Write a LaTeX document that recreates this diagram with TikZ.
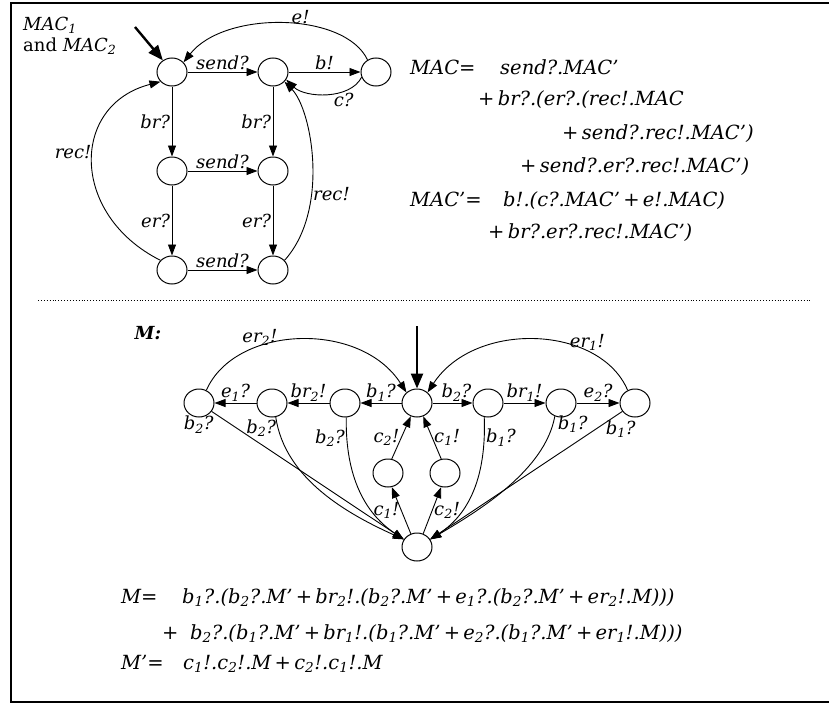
\documentclass[tikz,border=0pt]{standalone}
\usepackage{fontspec}
\setmainfont{DejaVu Serif}
\usetikzlibrary{arrows.meta,shapes.geometric}
\newcommand\sbs[1]{\textsubscript{#1}}
\begin{document}
\begin{tikzpicture}[x=1pt,y=-1pt,
 st/.style={ellipse,draw,line width=1pt,minimum width=30pt,minimum height=28pt,inner sep=0pt},
 arr/.style={line width=0.9pt,-{Triangle[length=11pt,width=8pt]}},
 initarr/.style={line width=2.4pt,-{Triangle[length=15pt,width=12pt]}},
 lbl/.style={font=\fontsize{18}{20}\selectfont\itshape, inner sep=1.5pt},
 eq/.style={font=\fontsize{19.5}{22}\selectfont\itshape, anchor=base west, inner sep=0pt}]
\useasboundingbox (0,0) rectangle (829,704);
\fill[white] (0,0) rectangle (829,704);
\draw[line width=1.5pt] (829,3) -- (11,3) -- (11,702) -- (829,702);
\draw[dotted, line width=0.9pt] (38,300) -- (812,300);
% top diagram
\node[st] (a1) at (172,72) {};
\node[st] (a2) at (273,72) {};
\node[st] (a3) at (376,72) {};
\node[st] (a4) at (172,171) {};
\node[st] (a5) at (273,171) {};
\node[st] (a6) at (172,270) {};
\node[st] (a7) at (273,270) {};
\node[lbl, anchor=base west, inner sep=0pt] (t1) at (23,30) {MAC\sbs{1}};
\node[lbl, anchor=base west, inner sep=0pt] (t2) at (23,51) {{\upshape and} MAC\sbs{2}};
\coordinate (i1) at (135,27);
\draw[initarr] (i1) -- (a1.128);
\draw[arr] (a1) -- node[lbl,above]{send?} (a2);
\draw[arr] (a2) -- node[lbl,above]{b!} (a3);
\draw[arr] (a3.200) .. controls (350,100) and (305,98) .. node[lbl,below,pos=0.3]{c?} (a2.-30);
\draw[arr] (a3.125) .. controls (345,12) and (225,10) .. node[lbl,above,pos=0.42,inner sep=0pt]{e!} (a1.40);
\draw[arr] (a1) -- node[lbl,left]{br?} (a4);
\draw[arr] (a2) -- node[lbl,left]{br?} (a5);
\draw[arr] (a4) -- node[lbl,above]{send?} (a5);
\draw[arr] (a4) -- node[lbl,left]{er?} (a6);
\draw[arr] (a5) -- node[lbl,left]{er?} (a7);
\draw[arr] (a6) -- node[lbl,above]{send?} (a7);
\draw[arr] (a6.140) .. controls (70,215) and (70,105) .. node[lbl,left,pos=0.55]{rec!} (a1.220);
\draw[arr] (a7.40) .. controls (330,210) and (312,110) .. node[lbl,right,pos=0.35]{rec!} (a2.-40);
% top equations
\node[eq] (q1) at (410,74) {MAC=};
\node[eq] (q2) at (500,74) {send?.MAC'};
\node[eq] (q3) at (478,105) {+\,br?.(er?.(rec!.MAC};
\node[eq] (q4) at (562,139) {+\,send?.rec!.MAC')};
\node[eq] (q5) at (520,172) {+\,send?.er?.rec!.MAC')};
\node[eq] (q6) at (410,206) {MAC'=};
\node[eq] (q7) at (503,206) {b!.(c?.MAC'\,+\,e!.MAC)};
\node[eq] (q8) at (488,238) {+\,br?.er?.rec!.MAC')};
% bottom diagram
\node[lbl, font=\fontsize{18}{20}\selectfont\bfseries\itshape] (Ml) at (148,333) {M:};
\node[st] (A) at (199,403) {};
\node[st] (B) at (272,403) {};
\node[st] (C) at (345,403) {};
\node[st] (D) at (417,403) {};
\node[st] (E) at (488,403) {};
\node[st] (F) at (561,403) {};
\node[st] (G) at (635,403) {};
\node[st] (P) at (388,473) {};
\node[st] (Q) at (445,473) {};
\node[st] (Z) at (417,547) {};
\coordinate (i2) at (417,326);
\draw[initarr] (i2) -- (D);
\draw[arr] (D) -- node[lbl,above]{b\sbs{1}?} (C);
\draw[arr] (C) -- node[lbl,above]{br\sbs{2}!} (B);
\draw[arr] (B) -- node[lbl,above]{e\sbs{1}?} (A);
\draw[arr] (D) -- node[lbl,above,pos=0.6]{b\sbs{2}?} (E);
\draw[arr] (E) -- node[lbl,above]{br\sbs{1}!} (F);
\draw[arr] (F) -- node[lbl,above]{e\sbs{2}?} (G);
\draw[arr] (A.60) .. controls (235,325) and (360,320) .. node[lbl,above,pos=0.33,inner sep=0pt]{er\sbs{2}!} (D.135);
\draw[arr] (G.120) .. controls (600,325) and (475,320) .. node[lbl,above,pos=0.27,inner sep=0pt]{er\sbs{1}!} (D.45);
\draw[arr] (A) -- node[lbl,below left,pos=0.02]{b\sbs{2}?} (Z.150);
\draw[arr] (B.-75) .. controls (285,480) and (350,515) .. node[lbl,left,pos=0.06]{b\sbs{2}?} (Z.150);
\draw[arr] (C.-85) .. controls (345,490) and (375,520) .. node[lbl,left,pos=0.1]{b\sbs{2}?} (Z.150);
\draw[arr] (E.-105) .. controls (487,490) and (460,520) .. node[lbl,right,pos=0.1]{b\sbs{1}?} (Z.30);
\draw[arr] (F.-115) .. controls (545,470) and (480,510) .. node[lbl,right,pos=0.05,xshift=3pt]{b\sbs{1}?} (Z.30);
\draw[arr] (G) -- node[lbl,below,pos=0.04,xshift=6pt,yshift=-2pt]{b\sbs{1}?} (Z.30);
\draw[arr] (Z.115) -- node[lbl,left]{c\sbs{1}!} (P.-75);
\draw[arr] (Z.65) -- node[lbl,right]{c\sbs{2}!} (Q.-105);
\draw[arr] (P.75) -- node[lbl,left]{c\sbs{2}!} (D.-115);
\draw[arr] (Q.105) -- node[lbl,right]{c\sbs{1}!} (D.-65);
% bottom equations
\node[eq] (m1) at (121,603) {M=};
\node[eq] (m2) at (182,603) {b\sbs{1}?.(b\sbs{2}?.M'\,+\,br\sbs{2}!.(b\sbs{2}?.M'\,+\,e\sbs{1}?.(b\sbs{2}?.M'\,+\,er\sbs{2}!.M)))};
\node[eq] (m3) at (162,639) {+\; b\sbs{2}?.(b\sbs{1}?.M'\,+\,br\sbs{1}!.(b\sbs{1}?.M'\,+\,e\sbs{2}?.(b\sbs{1}?.M'\,+\,er\sbs{1}!.M)))};
\node[eq] (m4) at (121,669) {M'=};
\node[eq] (m5) at (183,669) {c\sbs{1}!.c\sbs{2}!.M\,+\,c\sbs{2}!.c\sbs{1}!.M};
\end{tikzpicture}
\end{document}
